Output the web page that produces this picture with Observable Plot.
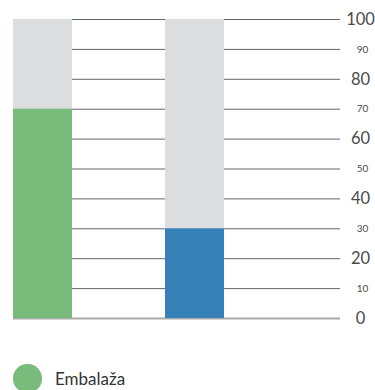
<!DOCTYPE html>
<html>
<head>
<meta charset="utf-8">
<script src="https://cdn.jsdelivr.net/npm/d3@7"></script>
<script src="https://cdn.jsdelivr.net/npm/@observablehq/plot@0.6"></script>
<style>
  body { margin: 0; background: #fff; font-family: Lato, "Open Sans", sans-serif; }
  #chart svg { display: block; }
  .legend { display: flex; align-items: center; margin: 34px 0 0 13px; }
  .legend .dot { width: 28.5px; height: 28.5px; border-radius: 50%; background: #78bb7b; }
  .legend .lab { margin-left: 13.5px; font-size: 17px; color: #333; font-family: Lato, sans-serif; }
</style>
</head>
<body>
<div id="chart"></div>
<div class="legend"><div class="dot"></div><div class="lab">Embalaža</div></div>
<script>
const categories = ["A", "B"];
const values = [70, 30];
const totals = [100, 100];
const colors = ["#78bb7b", "#3581b8"];
const majorTicks = [0, 20, 40, 60, 80, 100];
const minorTicks = [10, 30, 50, 70, 90];
const gridTicks = [10, 20, 30, 40, 50, 60, 70, 80, 90, 100];

const rows = categories.map((c, i) => ({cat: c, value: values[i], total: totals[i], color: colors[i]}));

const chart = Plot.plot({
  width: 375,
  height: 330,
  marginLeft: 13,
  marginRight: 35,
  marginTop: 19,
  marginBottom: 12,
  style: {fontFamily: "Lato, sans-serif", color: "#555", background: "#fff", overflow: "visible"},
  x: {type: "band", domain: categories, range: [13, 224], paddingInner: 0.612, paddingOuter: 0, axis: null},
  y: {domain: [0, 100], axis: null},
  marks: [
    Plot.ruleY(gridTicks, {stroke: "#666", strokeWidth: 1}),
    Plot.ruleY([0], {stroke: "#aaa", strokeWidth: 2}),
    Plot.barY(rows, {x: "cat", y: "total", fill: "#dcdddf"}),
    Plot.barY(rows, {x: "cat", y: "value", fill: "color"}),
    Plot.axisY({anchor: "right", ticks: majorTicks, tickSize: 0, tickPadding: 20, textAnchor: "middle", fontSize: 16.5, fill: "#4a4a4a"}),
    Plot.axisY({anchor: "right", ticks: minorTicks, tickSize: 0, tickPadding: 22, textAnchor: "middle", fontSize: 10, fill: "#4a4a4a"})
  ]
});
document.getElementById("chart").appendChild(chart);
</script>
</body>
</html>
